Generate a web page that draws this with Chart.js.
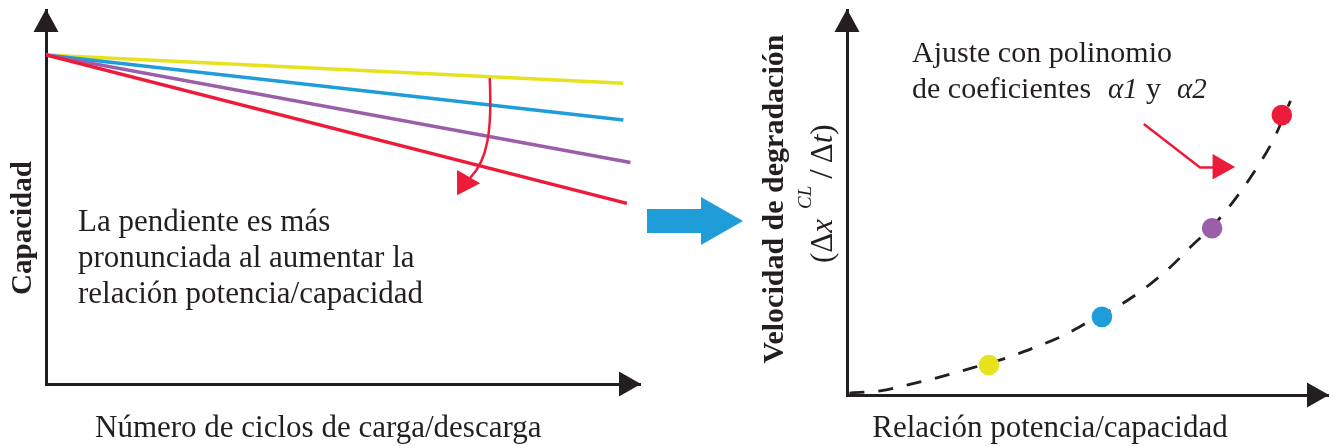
<!DOCTYPE html>
<html>
<head>
<meta charset="utf-8">
<script src="https://cdn.jsdelivr.net/npm/chart.js@4"></script>
<style>
  html, body { margin: 0; padding: 0; background: #fff; }
  .panel { position: absolute; top: 0; height: 446px; }
</style>
</head>
<body>
<div class="panel" style="left:0;width:745px"><canvas id="leftChart"></canvas></div>
<div class="panel" style="left:745px;width:585px"><canvas id="rightChart"></canvas></div>
<script>
// left panel: capacity vs cycles, one line per power/capacity ratio
const seriesNames = ['Relación baja', 'Relación media', 'Relación alta', 'Relación muy alta'];
const seriesColors = ['#e6e31e', '#1f9dd9', '#9a5fa8', '#ed1b3a'];
const cycleStart = [0, 0, 0, 0];
const cycleEnd = [97.2, 97.2, 98.4, 97.8];
const capStart = [88.0, 88.0, 88.0, 88.0];
const capEnd = [80.4, 70.6, 59.2, 48.3];

// right panel: degradation speed vs power/capacity ratio
const ratioX = [29.5, 53.0, 75.9, 90.4];
const speedY = [7.8, 20.3, 43.3, 72.7];
const fitX = [0.5, 6.9, 13.5, 20.0, 26.2, 32.4, 38.7, 44.9, 50.9, 56.8, 62.0, 67.2, 71.9, 76.5, 81.0, 85.2, 88.6, 92.2];
const fitY = [0.5, 1.1, 2.9, 4.9, 7.1, 9.3, 12.2, 15.4, 19.5, 23.4, 27.8, 33.2, 39.0, 44.5, 51.4, 59.0, 66.2, 76.4];

const ink = '#231f20';
const red = '#ed1b3a';
const serif = '"Liberation Serif", "Times New Roman", serif';

function fillPoly(ctx, pts, color) {
  ctx.beginPath();
  ctx.moveTo(pts[0][0], pts[0][1]);
  for (let i = 1; i < pts.length; i++) ctx.lineTo(pts[i][0], pts[i][1]);
  ctx.closePath();
  ctx.fillStyle = color;
  ctx.fill();
}

function axisArrows(chart) {
  const { ctx, chartArea: a } = chart;
  fillPoly(ctx, [[a.left, a.top - 1], [a.left - 12.5, a.top + 22], [a.left + 12.5, a.top + 22]], ink);
  fillPoly(ctx, [[a.right + 1, a.bottom], [a.right - 21, a.bottom - 12.5], [a.right - 21, a.bottom + 12.5]], ink);
}

function rotatedText(ctx, text, x, y, font) {
  ctx.save();
  ctx.translate(x, y);
  ctx.rotate(-Math.PI / 2);
  ctx.font = font;
  ctx.textAlign = 'center';
  ctx.textBaseline = 'alphabetic';
  ctx.fillStyle = ink;
  ctx.fillText(text, 0, 0);
  ctx.restore();
}

function axisOptions() {
  return {
    type: 'linear', min: 0, max: 100,
    grid: { display: false, drawTicks: false },
    ticks: { display: false },
    border: { display: true, color: ink, width: 3 }
  };
}

const leftDecor = {
  id: 'leftDecor',
  afterDraw(chart) {
    const { ctx } = chart;
    const sx = v => chart.scales.x.getPixelForValue(v);
    const sy = v => chart.scales.y.getPixelForValue(v);
    axisArrows(chart);

    // curved red arrow: slope grows with ratio
    ctx.save();
    ctx.strokeStyle = red;
    ctx.lineWidth = 2.5;
    ctx.beginPath();
    ctx.moveTo(sx(74.7), sy(81.8));
    ctx.bezierCurveTo(sx(75.1), sy(67.9), sx(74.4), sy(59.9), sx(71.4), sy(55.1));
    ctx.stroke();
    fillPoly(ctx, [[sx(69.2), sy(50.5)], [sx(69.2), sy(57.2)], [sx(73.1), sy(53.7)]], red);

    ctx.fillStyle = ink;
    ctx.font = '31px ' + serif;
    ctx.textAlign = 'left';
    ctx.textBaseline = 'alphabetic';
    ctx.fillText('La pendiente es más', 78, 231);
    ctx.fillText('pronunciada al aumentar la', 78, 267);
    ctx.fillText('relación potencia/capacidad', 78, 303);
    ctx.fillText('Número de ciclos de carga/descarga', 95, 437);
    rotatedText(ctx, 'Capacidad', 31, 228, 'bold 29px ' + serif);

    // big blue arrow between panels
    fillPoly(ctx, [[647, 209], [701, 209], [701, 197], [743, 221], [701, 245], [701, 233], [647, 233]], '#1f9dd9');
    ctx.restore();
  }
};

const rightDecor = {
  id: 'rightDecor',
  afterDraw(chart) {
    const { ctx } = chart;
    const sx = v => chart.scales.x.getPixelForValue(v);
    const sy = v => chart.scales.y.getPixelForValue(v);
    axisArrows(chart);

    // red pointer to the fitted curve
    ctx.save();
    ctx.strokeStyle = red;
    ctx.lineWidth = 2.5;
    ctx.beginPath();
    ctx.moveTo(sx(61.7), sy(70.4));
    ctx.lineTo(sx(73.4), sy(59.1));
    ctx.lineTo(sx(76.5), sy(59.1));
    ctx.stroke();
    fillPoly(ctx, [[sx(76.0), sy(62.6)], [sx(80.7), sy(59.2)], [sx(76.0), sy(56.0)]], red);

    ctx.fillStyle = ink;
    ctx.textAlign = 'left';
    ctx.textBaseline = 'alphabetic';
    ctx.font = '30px ' + serif;
    ctx.fillText('Ajuste con polinomio', 167, 62);
    ctx.fillText('de coeficientes', 167, 98);
    ctx.fillText('y', 401, 98);
    ctx.font = 'italic 29px ' + serif;
    ctx.fillText('α1', 363, 98);
    ctx.fillText('α2', 432, 98);

    ctx.font = '31px ' + serif;
    ctx.textAlign = 'center';
    ctx.fillText('Relación potencia/capacidad', 305, 437);

    rotatedText(ctx, 'Velocidad de degradación', 38, 199, 'bold 30px ' + serif);

    // (Δx CL / Δt) written along the axis
    ctx.translate(87, 263);
    ctx.rotate(-Math.PI / 2);
    ctx.textAlign = 'left';
    let x = 0;
    const piece = (t, font, dy, gap) => {
      ctx.font = font;
      ctx.fillText(t, x, dy);
      x += ctx.measureText(t).width + (gap || 0);
    };
    piece('(Δ', '31px ' + serif, 0);
    piece('x', 'italic 31px ' + serif, 0, 10);
    piece('CL', 'italic 19px ' + serif, -21, 7);
    piece('/', '34px ' + serif, 0, 6);
    piece('Δ', '31px ' + serif, 0);
    piece('t', 'italic 31px ' + serif, 0);
    piece(')', '31px ' + serif, 0);
    ctx.restore();
  }
};

new Chart(document.getElementById('leftChart').getContext('2d'), {
  type: 'scatter',
  data: {
    datasets: seriesNames.map((name, i) => ({
      label: name,
      data: [{ x: cycleStart[i], y: capStart[i] }, { x: cycleEnd[i], y: capEnd[i] }],
      showLine: true,
      borderColor: seriesColors[i],
      borderWidth: 3.5,
      pointRadius: 0,
      order: seriesNames.length - i
    }))
  },
  options: {
    responsive: true,
    maintainAspectRatio: false,
    animation: false,
    layout: { autoPadding: false, padding: { left: 46, top: 10, right: 105, bottom: 62 } },
    plugins: { legend: { display: false }, tooltip: { enabled: false } },
    scales: { x: axisOptions(), y: axisOptions() }
  },
  plugins: [leftDecor]
});

new Chart(document.getElementById('rightChart').getContext('2d'), {
  type: 'scatter',
  data: {
    datasets: [
      {
        label: 'Puntos',
        data: ratioX.map((v, i) => ({ x: v, y: speedY[i] })),
        pointRadius: 10.3,
        pointBorderWidth: 0,
        pointBackgroundColor: seriesColors,
        order: 0
      },
      {
        label: 'Ajuste',
        data: fitX.map((v, i) => ({ x: v, y: fitY[i] })),
        showLine: true,
        borderColor: ink,
        borderWidth: 2.8,
        borderDash: [15, 14],
        cubicInterpolationMode: 'monotone',
        pointRadius: 0,
        order: 1
      }
    ]
  },
  options: {
    responsive: true,
    maintainAspectRatio: false,
    animation: false,
    layout: { autoPadding: false, padding: { left: 102, top: 10, right: 2, bottom: 51 } },
    plugins: { legend: { display: false }, tooltip: { enabled: false } },
    scales: { x: axisOptions(), y: axisOptions() }
  },
  plugins: [rightDecor]
});
</script>
</body>
</html>
